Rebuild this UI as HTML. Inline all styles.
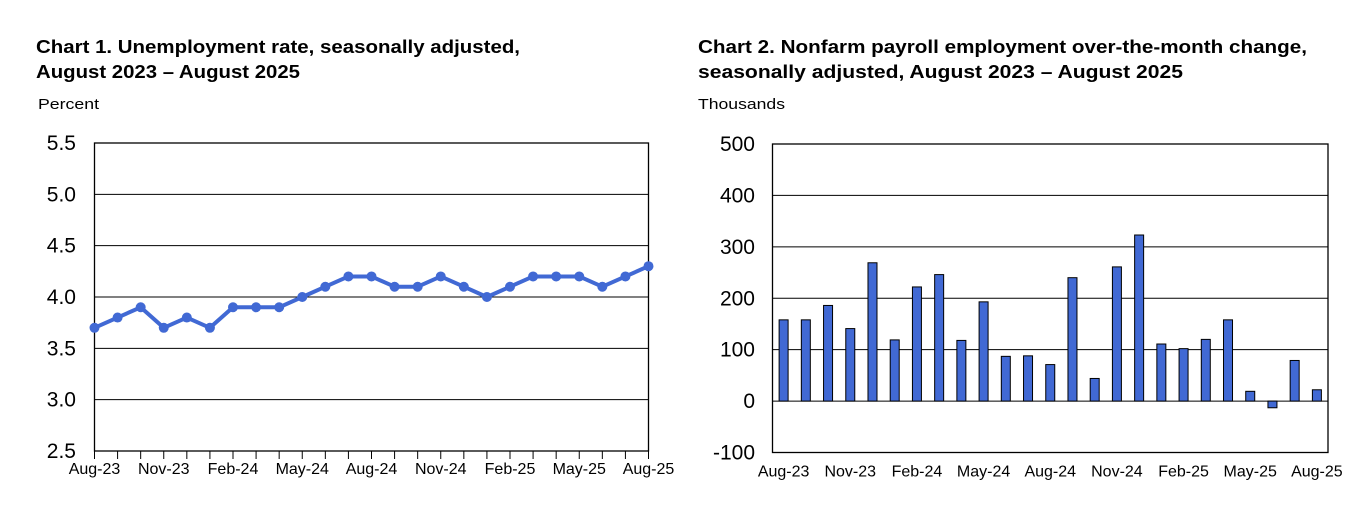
<!DOCTYPE html>
<html><head><meta charset="utf-8"><style>
body{margin:0;background:#fff;width:1354px;height:512px;overflow:hidden;font-family:"Liberation Sans",Arial,sans-serif}
svg text{font-family:"Liberation Sans",Arial,sans-serif}
</style></head><body>
<svg width="1354" height="512">
<g id="c1">
<text x="36" y="53" font-size="18" font-weight="bold" textLength="484" lengthAdjust="spacingAndGlyphs">Chart 1. Unemployment rate, seasonally adjusted,</text>
<text x="36" y="78" font-size="18" font-weight="bold" textLength="264" lengthAdjust="spacingAndGlyphs">August 2023 – August 2025</text>
<text x="38" y="109" font-size="15" textLength="61" lengthAdjust="spacingAndGlyphs">Percent</text>
</g>
<g id="c2">
<text x="698" y="53" font-size="18" font-weight="bold" textLength="609" lengthAdjust="spacingAndGlyphs">Chart 2. Nonfarm payroll employment over-the-month change,</text>
<text x="698" y="78" font-size="18" font-weight="bold" textLength="485" lengthAdjust="spacingAndGlyphs">seasonally adjusted, August 2023 – August 2025</text>
<text x="698" y="109" font-size="15" textLength="87" lengthAdjust="spacingAndGlyphs">Thousands</text>
</g>
</svg>
<script>
const months=["Aug-23","Sep-23","Oct-23","Nov-23","Dec-23","Jan-24","Feb-24","Mar-24","Apr-24","May-24","Jun-24","Jul-24","Aug-24","Sep-24","Oct-24","Nov-24","Dec-24","Jan-25","Feb-25","Mar-25","Apr-25","May-25","Jun-25","Jul-25","Aug-25"];
const rates=[3.7,3.8,3.9,3.7,3.8,3.7,3.9,3.9,3.9,4.0,4.1,4.2,4.2,4.1,4.1,4.2,4.1,4.0,4.1,4.2,4.2,4.2,4.1,4.2,4.3];
const payrolls=[158,158,186,141,269,119,222,246,118,193,87,88,71,240,44,261,323,111,102,120,158,19,-13,79,22];
const rateTicks=["2.5","3.0","3.5","4.0","4.5","5.0","5.5"];
const payTicks=["-100","0","100","200","300","400","500"];
const NS="http://www.w3.org/2000/svg";
function mk(p,t,a){const e=document.createElementNS(NS,t);for(const k in a)e.setAttribute(k,a[k]);p.appendChild(e);return e;}
// Chart 1
const c1=document.getElementById('c1');
const L1=94.5,R1=648.5,T1=143,B1=451;
const y1=v=>B1-(v-2.5)/3*(B1-T1);
const x1=i=>L1+i*(R1-L1)/(months.length-1);
rateTicks.forEach(t=>{const v=parseFloat(t),y=y1(v);
 if(v>2.5&&v<5.5){const g=mk(c1,'line',{x1:L1,x2:R1,y1:y,y2:y,stroke:'#000','stroke-width':1});
 
 }
 const tx=mk(c1,'text',{x:76,y:y+7,'font-size':21,'text-anchor':'end'});tx.textContent=t;
 
 });
const f1=mk(c1,'rect',{x:L1,y:T1,width:R1-L1,height:B1-T1,fill:'none',stroke:'#000','stroke-width':1.3});


months.forEach((m,i)=>{const x=x1(i);mk(c1,'line',{x1:x,x2:x,y1:B1,y2:B1+8,stroke:'#000'});
 if(i%3==0){const t=mk(c1,'text',{x:x,y:B1+23,'font-size':16,'text-anchor':'middle'});t.textContent=m;
 
 }});
const ln=mk(c1,'polyline',{points:rates.map((v,i)=>x1(i)+','+y1(v)).join(' '),fill:'none',stroke:'#4169d4','stroke-width':4,'stroke-linejoin':'round'});


rates.forEach((v,i)=>{const c=mk(c1,'circle',{cx:x1(i),cy:y1(v),r:5,fill:'#4169d4'});
 
 });
// Chart 2
const c2=document.getElementById('c2');
const L2=772.5,R2=1328,T2=144,B2=452.5;
const y2=v=>B2-(v+100)/600*(B2-T2);
const band=(R2-L2)/months.length;
const xc=i=>L2+band*(i+0.5);
payTicks.forEach(t=>{const v=parseFloat(t),y=y2(v);
 if(v>-100&&v<500){const g=mk(c2,'line',{x1:L2,x2:R2,y1:y,y2:y,stroke:'#000','stroke-width':1});
 
 }
 const tx=mk(c2,'text',{x:755,y:y+7,'font-size':21,'text-anchor':'end'});tx.textContent=t;
 
 });
payrolls.forEach((v,i)=>{const a=y2(Math.max(v,0)),b=y2(Math.min(v,0));
 const r=mk(c2,'rect',{x:xc(i)-4.5,y:a,width:9,height:Math.max(b-a,0.5),fill:'#4169d4',stroke:'#000','stroke-width':1});
 
 });
const f2=mk(c2,'rect',{x:L2,y:T2,width:R2-L2,height:B2-T2,fill:'none',stroke:'#000','stroke-width':1.3});


months.forEach((m,i)=>{if(i%3==0){const t=mk(c2,'text',{x:xc(i),y:B2+24,'font-size':16,'text-anchor':'middle'});t.textContent=m;
 
 }});
</script>
</body></html>
